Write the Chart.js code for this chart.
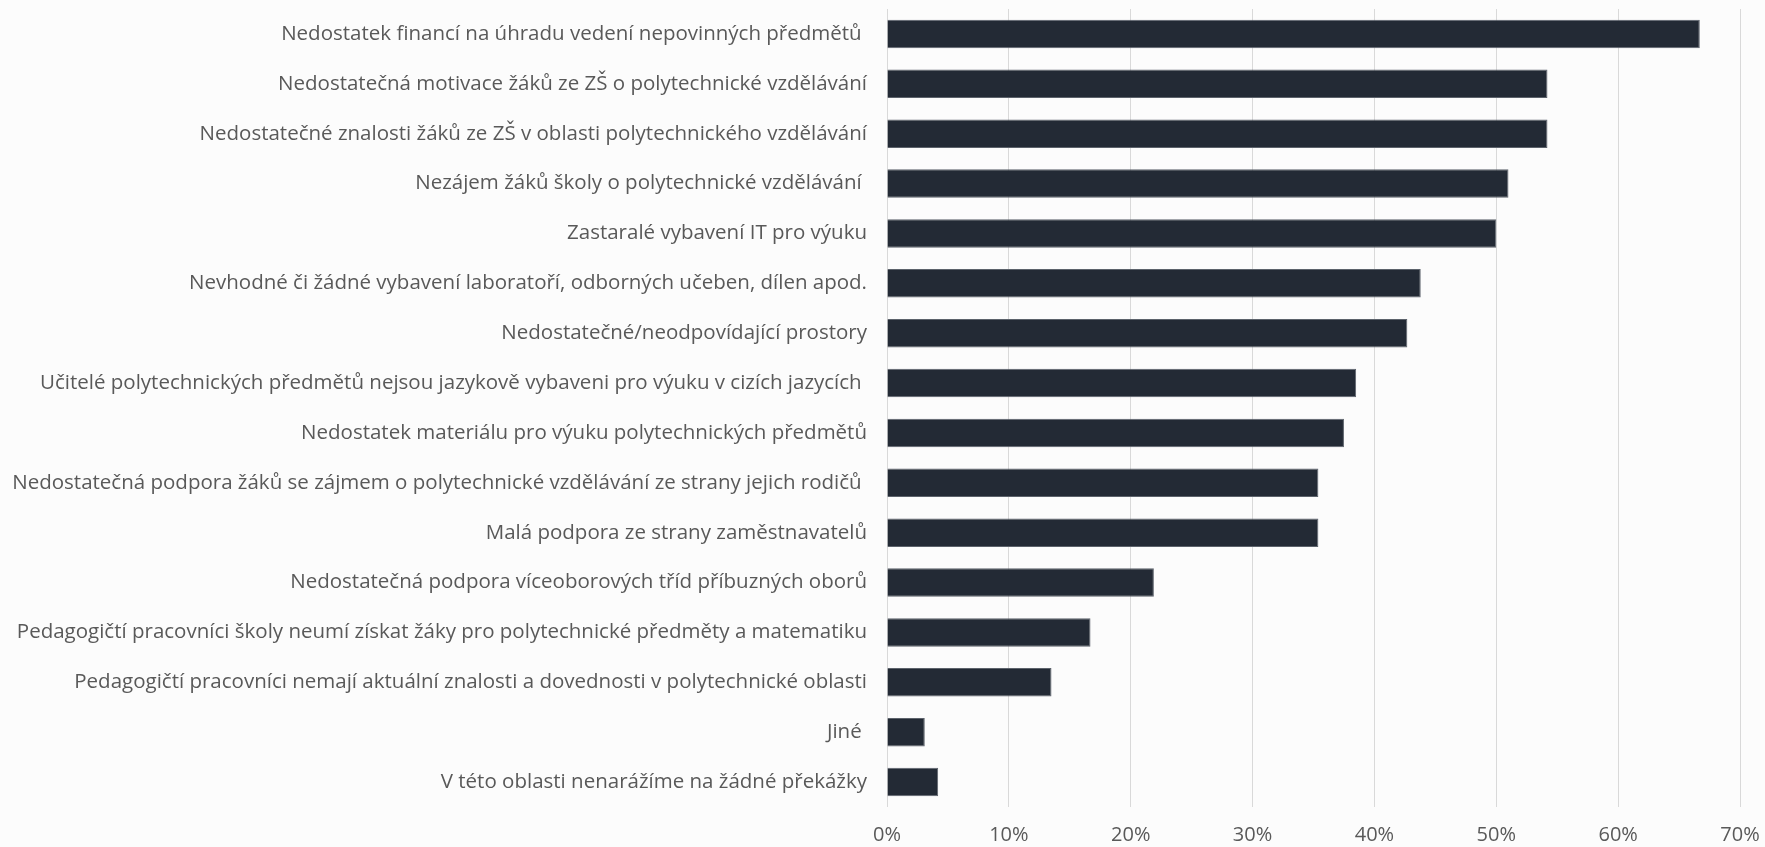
<!DOCTYPE html>
<html>
<head>
<meta charset="utf-8">
<script src="https://cdn.jsdelivr.net/npm/chart.js@4/dist/chart.umd.min.js"></script>
<style>
  html, body { margin: 0; padding: 0; background: #fcfcfc; }
  #wrap { width: 1765px; height: 847px; }
</style>
</head>
<body>
<div id="wrap"><canvas id="myChart" width="1765" height="847"></canvas></div>
<script>
let categories = [
  "Nedostatek financí na úhradu vedení nepovinných předmětů ",
  "Nedostatečná motivace žáků ze ZŠ o polytechnické vzdělávání",
  "Nedostatečné znalosti žáků ze ZŠ v oblasti polytechnického vzdělávání",
  "Nezájem žáků školy o polytechnické vzdělávání ",
  "Zastaralé vybavení IT pro výuku",
  "Nevhodné či žádné vybavení laboratoří, odborných učeben, dílen apod.",
  "Nedostatečné/neodpovídající prostory",
  "Učitelé polytechnických předmětů nejsou jazykově vybaveni pro výuku v cizích jazycích ",
  "Nedostatek materiálu pro výuku polytechnických předmětů",
  "Nedostatečná podpora žáků se zájmem o polytechnické vzdělávání ze strany jejich rodičů ",
  "Malá podpora ze strany zaměstnavatelů",
  "Nedostatečná podpora víceoborových tříd příbuzných oborů",
  "Pedagogičtí pracovníci školy neumí získat žáky pro polytechnické předměty a matematiku",
  "Pedagogičtí pracovníci nemají aktuální znalosti a dovednosti v polytechnické oblasti",
  "Jiné ",
  "V této oblasti nenarážíme na žádné překážky",
];

// share of schools, in %
let shares = [66.7, 54.2, 54.2, 51.0, 50.0, 43.8, 42.7, 38.5, 37.5, 35.4, 35.4, 21.9, 16.7, 13.5, 3.1, 4.2];

let xTicks = [0, 10, 20, 30, 40, 50, 60, 70];

let ctx = document.getElementById("myChart").getContext("2d");

let data = {
  type: "bar",
  data: {
    labels: categories,
    datasets: [
      {
        data: shares,
        backgroundColor: "#232a35",
        borderColor: "#5c626b",
        borderWidth: 1,
        categoryPercentage: 1,
        barPercentage: 0.57,
      },
    ],
  },
  options: {
    indexAxis: "y",
    responsive: false,
    animation: false,
    layout: { padding: { top: 9, right: 25, left: 0, bottom: 0 } },
    plugins: {
      legend: { display: false },
      tooltip: { enabled: false },
    },
    scales: {
      x: {
        min: 0,
        max: 70,
        afterBuildTicks: (scale) => {
          scale.ticks = xTicks.map((v) => ({ value: v }));
        },
        afterFit: (scale) => {
          // fixed axis height, no extra side padding from the tick labels
          scale.height = 40;
          scale.paddingLeft = 0;
          scale.paddingRight = 0;
        },
        grid: { color: "#d9d9d9", drawTicks: false },
        border: { display: false },
        ticks: {
          padding: 16,
          color: "#595959",
          font: { family: "Open Sans", size: 20 },
          callback: (v) => v + "%",
        },
      },
      y: {
        afterFit: (scale) => {
          scale.width = 887;
          scale.paddingTop = 0;
          scale.paddingBottom = 0;
        },
        grid: { display: false, drawTicks: false },
        border: { display: false },
        ticks: {
          padding: 20,
          autoSkip: false,
          color: "#595959",
          font: { family: "Open Sans", size: 20.5 },
        },
      },
    },
  },
};

let myChart = new Chart(ctx, data);
</script>
</body>
</html>
